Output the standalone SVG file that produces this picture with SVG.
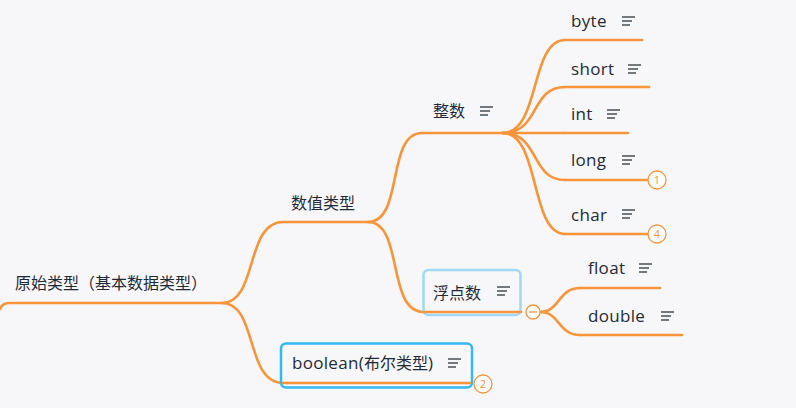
<svg xmlns="http://www.w3.org/2000/svg" width="796" height="408" viewBox="0 0 796 408">
<style>
.bg{fill:#f7f7f9}
.ln{fill:none;stroke:#f8953a;stroke-width:2.6;stroke-linecap:round}
.t{font-family:"Open Sans","Noto Sans CJK SC",sans-serif;font-size:16px;fill:#1f2a36}
.e{font-size:17px;letter-spacing:0.3px}
.ic{stroke:#4a4f57;stroke-width:1.5;fill:none}
.bd{fill:#fff;stroke:#f8953a;stroke-width:1.3}
.bn{font-family:"Open Sans",sans-serif;font-size:11px;fill:#f8953a;text-anchor:middle}
</style>
<defs>
<g id="menu"><path class="ic" d="M0 -4h13M0 0h10M0 4h8"/></g>
</defs>
<rect class="bg" width="796" height="408"/>
<g id="connectors">
<path class="ln" d="M222 303 C258 303 245 222 283 222"/>
<path class="ln" d="M222 303 C258 303 245 383 283 383"/>
<path class="ln" d="M368 222 C404 222 386 133 422 133"/>
<path class="ln" d="M368 222 C404 222 386 312 424 312"/>
<path class="ln" d="M503 133 C540 133 530 40 565 40"/>
<path class="ln" d="M503 133 C540 133 530 87 565 87"/>
<path class="ln" d="M503 133 L565 133"/>
<path class="ln" d="M503 133 C540 133 530 180 565 180"/>
<path class="ln" d="M503 133 C540 133 530 234 565 234"/>
<path class="ln" d="M540 312 C560 312 558 288 580 288"/>
<path class="ln" d="M540 312 C560 312 558 335 580 335"/>
</g>
<g id="root">
<path class="ln" d="M0 309 Q2 303 10 303 L222 303"/>
<text class="t" x="15" y="289">原始类型（基本数据类型）</text>
</g>
<g id="numeric">
<path class="ln" d="M283 222 L368 222"/>
<text class="t" x="291" y="209">数值类型</text>
</g>
<g id="integer">
<path class="ln" d="M422 133 L503 133"/>
<text class="t" x="433" y="117">整数</text>
<use href="#menu" x="480" y="111"/>
</g>
<g id="float-group">
<rect x="423.5" y="270" width="97" height="45" rx="5" fill="none" stroke="#9fd9f6" stroke-width="2.5"/>
<path class="ln" d="M424 312 L521 312"/>
<text class="t" x="433" y="299">浮点数</text>
<use href="#menu" x="497" y="291"/>
<circle class="bd" cx="533" cy="312" r="7"/>
<path d="M529 312h8" stroke="#f8953a" stroke-width="1.3"/>
</g>
<g id="boolean">
<rect x="281" y="343.5" width="191" height="44" rx="5" fill="none" stroke="#35b9f4" stroke-width="2.5"/>
<path class="ln" d="M283 383 L470 383"/>
<text class="t" x="292" y="369"><tspan class="e">boolean(</tspan>布尔类型<tspan class="e">)</tspan></text>
<use href="#menu" x="448" y="363"/>
<circle class="bd" cx="483" cy="384" r="9"/>
<text class="bn" x="483" y="388">2</text>
</g>
<g id="byte">
<path class="ln" d="M565 40 L642 40"/>
<text class="t e" x="571" y="27">byte</text>
<use href="#menu" x="622" y="21"/>
</g>
<g id="short">
<path class="ln" d="M565 87 L649 87"/>
<text class="t e" x="571" y="75">short</text>
<use href="#menu" x="628" y="69"/>
</g>
<g id="int">
<path class="ln" d="M565 133 L628 133"/>
<text class="t e" x="571" y="120">int</text>
<use href="#menu" x="607" y="114"/>
</g>
<g id="long">
<path class="ln" d="M565 180 L648 180"/>
<text class="t e" x="571" y="166">long</text>
<use href="#menu" x="622" y="160"/>
<circle class="bd" cx="657" cy="180" r="9"/>
<text class="bn" x="657" y="184">1</text>
</g>
<g id="char">
<path class="ln" d="M565 234 L648 234"/>
<text class="t e" x="571" y="221">char</text>
<use href="#menu" x="622" y="214"/>
<circle class="bd" cx="657" cy="234" r="9"/>
<text class="bn" x="657" y="238">4</text>
</g>
<g id="float">
<path class="ln" d="M580 288 L660 288"/>
<text class="t e" x="588" y="274">float</text>
<use href="#menu" x="639" y="268"/>
</g>
<g id="double">
<path class="ln" d="M580 335 L682 335"/>
<text class="t e" x="588" y="322">double</text>
<use href="#menu" x="661" y="316"/>
</g>
</svg>
